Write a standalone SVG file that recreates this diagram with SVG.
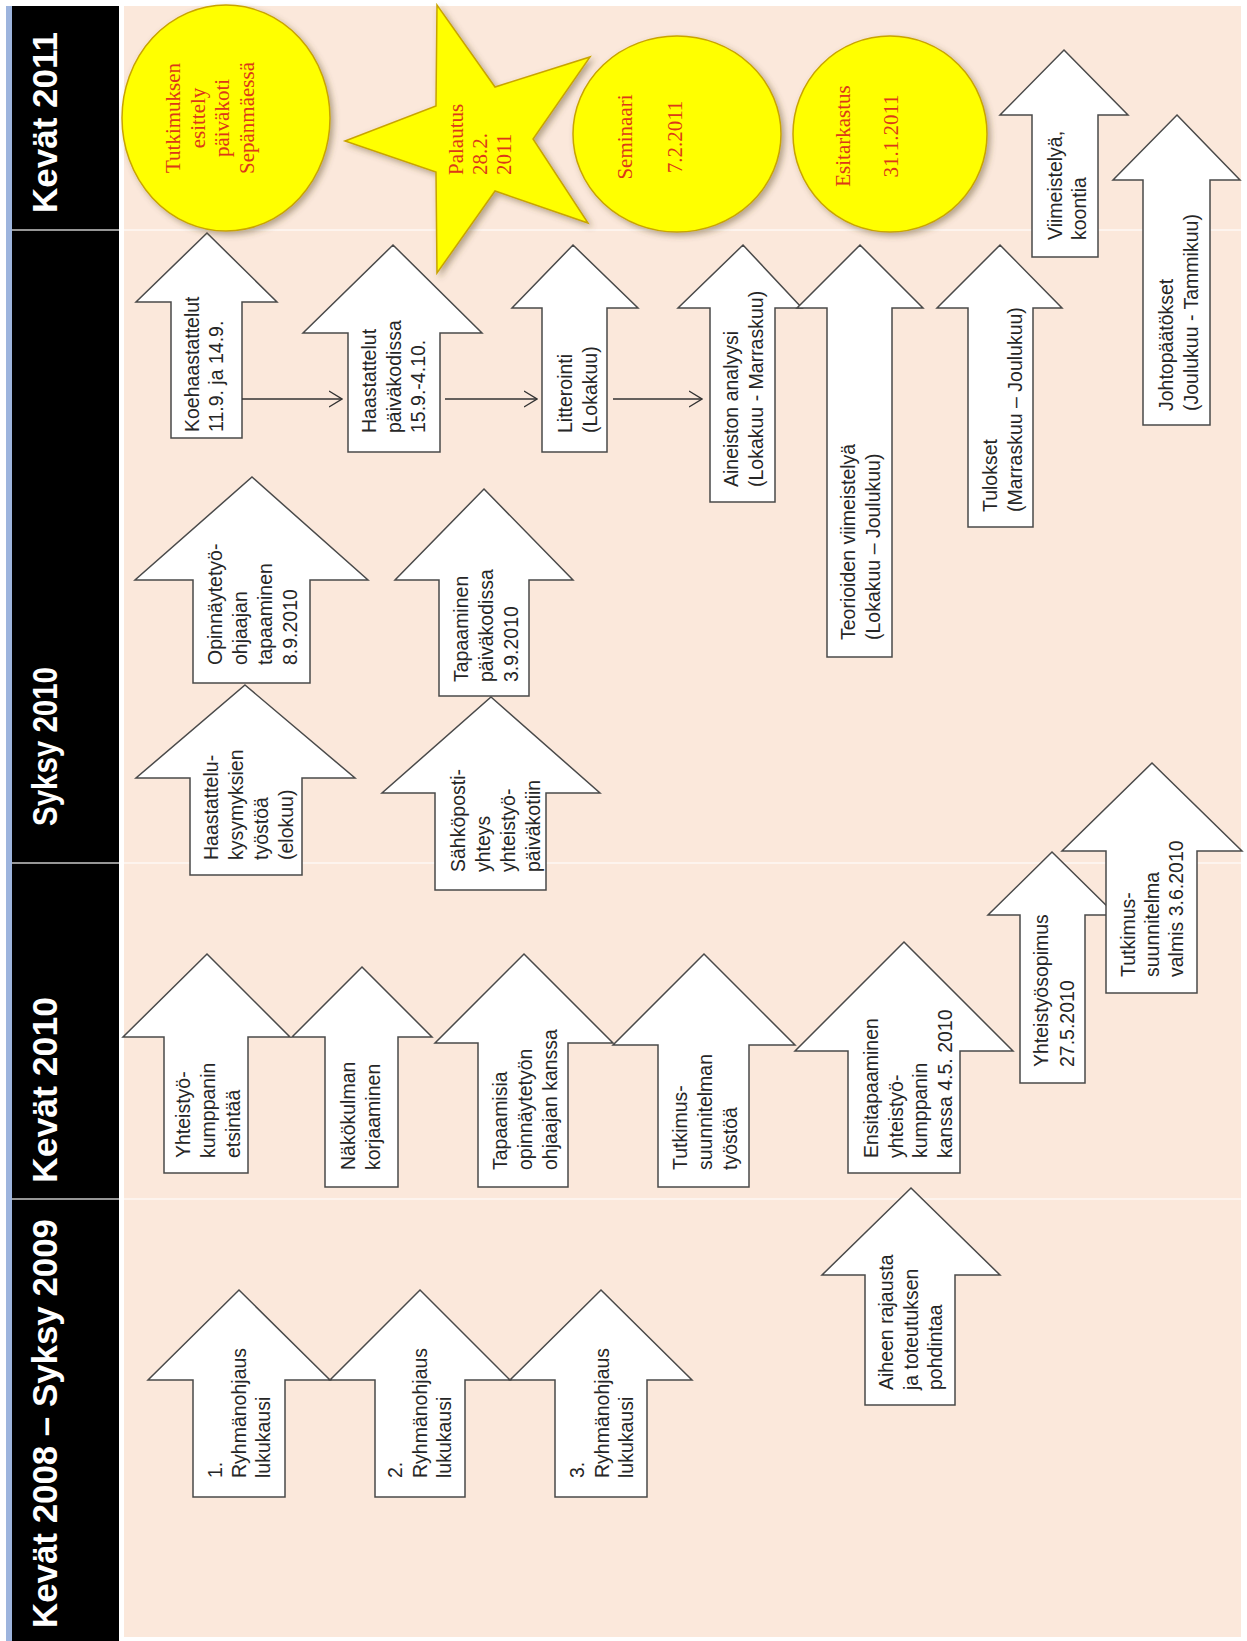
<svg xmlns="http://www.w3.org/2000/svg" width="1247" height="1641" viewBox="0 0 1247 1641">
<defs>
<style>
.hdr{font-family:"Liberation Sans",Arial,sans-serif;font-weight:bold;font-size:35px;fill:#ffffff}
.arr{fill:#ffffff;stroke:#4a4a4a;stroke-width:1.5;stroke-linejoin:miter}
.t{font-family:"Liberation Sans",Arial,sans-serif;font-size:19.5px;fill:#262626}
.sh{fill:#ffff00;stroke:#c9a400;stroke-width:1.5;filter:url(#shadow)}
.st{font-family:"Liberation Serif","Times New Roman",serif;font-size:21px;fill:#dc3818}
.conn{stroke:#333333;stroke-width:1.4;fill:none;marker-end:url(#open)}
.div{stroke:#fdf4ee;stroke-width:2}
.divh{stroke:#c8c8c8;stroke-width:1.5}
</style>
<filter id="shadow" x="-20%" y="-20%" width="150%" height="150%">
<feDropShadow dx="3" dy="3" stdDeviation="3" flood-color="#5a4a20" flood-opacity="0.45"/>
</filter>
<marker id="open" markerUnits="userSpaceOnUse" viewBox="0 0 14 18" refX="13" refY="9" markerWidth="14" markerHeight="18" orient="auto">
<path d="M0,1 L13,9 L0,17" fill="none" stroke="#333333" stroke-width="1.4"/>
</marker>
</defs>

<rect x="0" y="0" width="1247" height="1641" fill="#ffffff"/>
<g id="background">
<rect x="6" y="6" width="6" height="1635" fill="#9db4dd"/>
<rect x="12" y="6" width="107" height="1635" fill="#000000"/>
<rect x="124" y="6" width="1117" height="1631" fill="#fbe8db"/>
<line class="divh" x1="12" y1="230" x2="119" y2="230"/>
<line class="divh" x1="12" y1="863" x2="119" y2="863"/>
<line class="divh" x1="12" y1="1199" x2="119" y2="1199"/>
<line class="div" x1="124" y1="230" x2="1241" y2="230"/>
<line class="div" x1="124" y1="863" x2="1241" y2="863"/>
<line class="div" x1="124" y1="1199" x2="1241" y2="1199"/>
</g>

<g id="headers">
<text class="hdr" transform="translate(57,213) rotate(-90)" textLength="181" lengthAdjust="spacingAndGlyphs">Kevät 2011</text>
<text class="hdr" transform="translate(57,826) rotate(-90)" textLength="159" lengthAdjust="spacingAndGlyphs">Syksy 2010</text>
<text class="hdr" transform="translate(57,1183) rotate(-90)" textLength="186" lengthAdjust="spacingAndGlyphs">Kevät 2010</text>
<text class="hdr" transform="translate(57,1628) rotate(-90)" textLength="409" lengthAdjust="spacingAndGlyphs">Kevät 2008 – Syksy 2009</text>
</g>

<g id="n-koehaastattelut">
<polygon class="arr" points="207,233 277,302 242,302 242,438 171,438 171,302 136,302"/>
<text class="t" transform="translate(199,432) rotate(-90)"><tspan x="0" y="0">Koehaastattelut</tspan><tspan x="0" y="23.5">11.9. ja 14.9.</tspan></text>
</g>
<g id="n-haastattelut">
<polygon class="arr" points="393,245 482,333 440,333 440,452 348,452 348,333 303,333"/>
<text class="t" transform="translate(376,433) rotate(-90)"><tspan x="0" y="0">Haastattelut</tspan><tspan x="0" y="24.5">päiväkodissa</tspan><tspan x="0" y="49">15.9.-4.10.</tspan></text>
</g>
<g id="n-litterointi">
<polygon class="arr" points="573,245 638,308 607,308 607,452 542,452 542,308 512,308"/>
<text class="t" transform="translate(572,433) rotate(-90)"><tspan x="0" y="0">Litterointi</tspan><tspan x="0" y="24.5">(Lokakuu)</tspan></text>
</g>
<g id="n-aineiston">
<polygon class="arr" points="743,245 802,308 775,308 775,502 710,502 710,308 678,308"/>
<text class="t" transform="translate(738,487) rotate(-90)"><tspan x="0" y="0">Aineiston analyysi</tspan><tspan x="0" y="24.5">(Lokakuu - Marraskuu)</tspan></text>
</g>
<g id="n-teorioiden">
<polygon class="arr" points="860,245 923,308 892,308 892,657 827,657 827,308 797,308"/>
<text class="t" transform="translate(855,640) rotate(-90)"><tspan x="0" y="0">Teorioiden viimeistelyä</tspan><tspan x="0" y="24.5">(Lokakuu – Joulukuu)</tspan></text>
</g>
<g id="n-tulokset">
<polygon class="arr" points="1000,245 1062,308 1033,308 1033,527 968,527 968,308 937,308"/>
<text class="t" transform="translate(997,512) rotate(-90)"><tspan x="0" y="0">Tulokset</tspan><tspan x="0" y="24.5">(Marraskuu – Joulukuu)</tspan></text>
</g>
<g id="n-viimeistelya">
<polygon class="arr" points="1064,50 1128,115 1098,115 1098,257 1032,257 1032,115 1000,115"/>
<text class="t" transform="translate(1062,240) rotate(-90)"><tspan x="0" y="0">Viimeistelyä,</tspan><tspan x="0" y="24">koontia</tspan></text>
</g>
<g id="n-johtopaatokset">
<polygon class="arr" points="1177,115 1240,180 1210,180 1210,425 1143,425 1143,180 1113,180"/>
<text class="t" transform="translate(1173,411) rotate(-90)"><tspan x="0" y="0">Johtopäätökset</tspan><tspan x="0" y="24.5">(Joulukuu - Tammikuu)</tspan></text>
</g>
<g id="n-opinnaytetyo">
<polygon class="arr" points="252,477 368,580 310,580 310,683 193,683 193,580 135,580"/>
<text class="t" transform="translate(222,665) rotate(-90)"><tspan x="0" y="0">Opinnäytetyö-</tspan><tspan x="0" y="25">ohjaajan</tspan><tspan x="0" y="50">tapaaminen</tspan><tspan x="0" y="75">8.9.2010</tspan></text>
</g>
<g id="n-haastattelukysymykset">
<polygon class="arr" points="245,685 355,778 302,778 302,875 190,875 190,778 136,778"/>
<text class="t" transform="translate(218,860) rotate(-90)"><tspan x="0" y="0">Haastattelu-</tspan><tspan x="0" y="25">kysymyksien</tspan><tspan x="0" y="50">työstöä</tspan><tspan x="0" y="75">(elokuu)</tspan></text>
</g>
<g id="n-tapaaminen-paivakodissa">
<polygon class="arr" points="484,489 573,580 529,580 529,696 439,696 439,580 395,580"/>
<text class="t" transform="translate(468,682) rotate(-90)"><tspan x="0" y="0">Tapaaminen</tspan><tspan x="0" y="25">päiväkodissa</tspan><tspan x="0" y="50">3.9.2010</tspan></text>
</g>
<g id="n-sahkoposti">
<polygon class="arr" points="491,697 600,793 546,793 546,890 435,890 435,793 382,793"/>
<text class="t" transform="translate(465,872) rotate(-90)"><tspan x="0" y="0">Sähköposti-</tspan><tspan x="0" y="25">yhteys</tspan><tspan x="0" y="50">yhteistyö-</tspan><tspan x="0" y="75">päiväkotiin</tspan></text>
</g>
<g id="n-yhteistyokumppani">
<polygon class="arr" points="207,954 290,1037 248,1037 248,1173 164,1173 164,1037 123,1037"/>
<text class="t" transform="translate(190,1158) rotate(-90)"><tspan x="0" y="0">Yhteistyö-</tspan><tspan x="0" y="25">kumppanin</tspan><tspan x="0" y="50">etsintää</tspan></text>
</g>
<g id="n-nakokulma">
<polygon class="arr" points="362,967 432,1037 398,1037 398,1187 325,1187 325,1037 292,1037"/>
<text class="t" transform="translate(355,1170) rotate(-90)"><tspan x="0" y="0">Näkökulman</tspan><tspan x="0" y="25">korjaaminen</tspan></text>
</g>
<g id="n-tapaamisia">
<polygon class="arr" points="524,954 613,1043 568,1043 568,1187 478,1187 478,1043 435,1043"/>
<text class="t" transform="translate(507,1170) rotate(-90)"><tspan x="0" y="0">Tapaamisia</tspan><tspan x="0" y="25">opinnäytetyön</tspan><tspan x="0" y="50">ohjaajan kanssa</tspan></text>
</g>
<g id="n-tutkimussuunnitelman-tyosto">
<polygon class="arr" points="704,954 795,1045 749,1045 749,1187 658,1187 658,1045 613,1045"/>
<text class="t" transform="translate(687,1170) rotate(-90)"><tspan x="0" y="0">Tutkimus-</tspan><tspan x="0" y="25">suunnitelman</tspan><tspan x="0" y="50">työstöä</tspan></text>
</g>
<g id="n-ensitapaaminen">
<polygon class="arr" points="904,942 1013,1051 960,1051 960,1173 848,1173 848,1051 795,1051"/>
<text class="t" transform="translate(878,1158) rotate(-90)"><tspan x="0" y="0">Ensitapaaminen</tspan><tspan x="0" y="24.5">yhteistyö-</tspan><tspan x="0" y="49">kumppanin</tspan><tspan x="0" y="73.5">kanssa 4.5. 2010</tspan></text>
</g>
<g id="n-yhteistyosopimus">
<polygon class="arr" points="1052,852 1116,915 1085,915 1085,1083 1020,1083 1020,915 988,915"/>
<text class="t" transform="translate(1048,1067) rotate(-90)"><tspan x="0" y="0">Yhteistyösopimus</tspan><tspan x="0" y="26">27.5.2010</tspan></text>
</g>
<g id="n-tutkimussuunnitelma-valmis">
<polygon class="arr" points="1152,763 1242,851 1197,851 1197,993 1106,993 1106,851 1062,851"/>
<text class="t" transform="translate(1135,977) rotate(-90)"><tspan x="0" y="0">Tutkimus-</tspan><tspan x="0" y="24">suunnitelma</tspan><tspan x="0" y="48">valmis 3.6.2010</tspan></text>
</g>
<g id="n-ryhmanohjaus1">
<polygon class="arr" points="239,1290 330,1380 285,1380 285,1497 193,1497 193,1380 148,1380"/>
<text class="t" transform="translate(222,1478) rotate(-90)"><tspan x="0" y="0">1.</tspan><tspan x="0" y="24">Ryhmänohjaus</tspan><tspan x="0" y="48">lukukausi</tspan></text>
</g>
<g id="n-ryhmanohjaus2">
<polygon class="arr" points="420,1290 510,1380 465,1380 465,1497 375,1497 375,1380 330,1380"/>
<text class="t" transform="translate(402,1478) rotate(-90)"><tspan x="0" y="0">2.</tspan><tspan x="0" y="24.5">Ryhmänohjaus</tspan><tspan x="0" y="49">lukukausi</tspan></text>
</g>
<g id="n-ryhmanohjaus3">
<polygon class="arr" points="601,1290 692,1380 647,1380 647,1497 555,1497 555,1380 510,1380"/>
<text class="t" transform="translate(584,1478) rotate(-90)"><tspan x="0" y="0">3.</tspan><tspan x="0" y="24.5">Ryhmänohjaus</tspan><tspan x="0" y="49">lukukausi</tspan></text>
</g>
<g id="n-aiheen-rajausta">
<polygon class="arr" points="911,1188 1000,1275 955,1275 955,1405 865,1405 865,1275 822,1275"/>
<text class="t" transform="translate(893,1390) rotate(-90)"><tspan x="0" y="0">Aiheen rajausta</tspan><tspan x="0" y="24.5">ja toteutuksen</tspan><tspan x="0" y="49">pohdintaa</tspan></text>
</g>

<g id="n-tutkimuksen-esittely">
<ellipse class="sh" cx="226" cy="118" rx="104" ry="113"/>
<text class="st" text-anchor="middle" transform="translate(180,118) rotate(-90)"><tspan x="0" y="0">Tutkimuksen</tspan><tspan x="0" y="24.5">esittely</tspan><tspan x="0" y="49">päiväkoti</tspan><tspan x="0" y="73.5">Sepänmäessä</tspan></text>
</g>
<g id="n-palautus">
<polygon class="sh" points="345,141 436,106 437,5 495,87 590,57 533,139 588,223 495,191 437,273 436,172"/>
<text class="st" transform="translate(463,175) rotate(-90)"><tspan x="0" y="0">Palautus</tspan><tspan x="0" y="24">28.2.</tspan><tspan x="0" y="48">2011</tspan></text>
</g>
<g id="n-seminaari">
<ellipse class="sh" cx="677" cy="134" rx="104" ry="98"/>
<text class="st" text-anchor="middle" transform="translate(632,137) rotate(-90)"><tspan x="0" y="0">Seminaari</tspan><tspan x="0" y="50">7.2.2011</tspan></text>
</g>
<g id="n-esitarkastus">
<ellipse class="sh" cx="890" cy="134" rx="97" ry="98"/>
<text class="st" text-anchor="middle" transform="translate(850,136) rotate(-90)"><tspan x="0" y="0">Esitarkastus</tspan><tspan x="0" y="48">31.1.2011</tspan></text>
</g>

<g id="connectors">
<line class="conn" x1="242" y1="399" x2="342" y2="399"/>
<line class="conn" x1="445" y1="399" x2="537" y2="399"/>
<line class="conn" x1="613" y1="399" x2="702" y2="399"/>
</g>
</svg>
